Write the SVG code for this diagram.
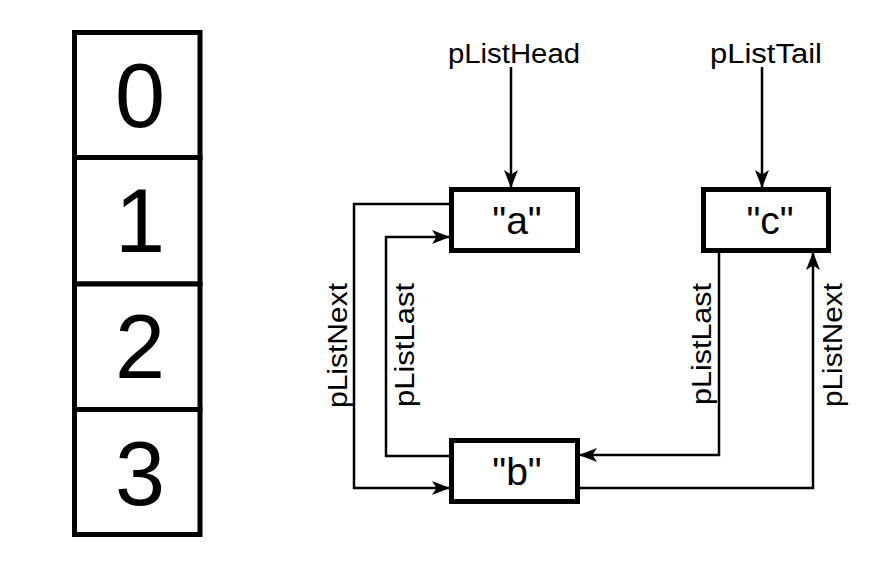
<svg xmlns="http://www.w3.org/2000/svg" width="894" height="564" viewBox="0 0 894 564">
<style>
.cell{fill:#fff;stroke:#000;stroke-width:5}
.node{fill:#fff;stroke:#000;stroke-width:5}
.digit{font-family:"Liberation Sans",Arial,sans-serif;font-size:90px;text-anchor:middle;fill:#000}
.nl{font-family:"Liberation Sans",Arial,sans-serif;font-size:39px;text-anchor:middle;fill:#000}
.lbl{font-family:"Liberation Sans",Arial,sans-serif;font-size:27px;text-anchor:middle;fill:#000}
.conn{fill:none;stroke:#000;stroke-width:2.5}
</style>
<defs>
<marker id="arr" viewBox="0 0 18 14" refX="17" refY="7" markerWidth="18" markerHeight="14" markerUnits="userSpaceOnUse" orient="auto">
<path d="M0,0 L18,7 L0,14 L4.5,7 z" fill="#000"/>
</marker>
</defs>
<rect width="894" height="564" fill="#fff"/>
<g id="array">
<rect class="cell" x="74.5" y="32.5" width="125.5" height="125"/>
<rect class="cell" x="74.5" y="157.5" width="125.5" height="126.5"/>
<rect class="cell" x="74.5" y="284" width="125.5" height="125.5"/>
<rect class="cell" x="74.5" y="409.5" width="125.5" height="125"/>
<text class="digit" x="140" y="127">0</text>
<text class="digit" x="140" y="252">1</text>
<text class="digit" x="140" y="378">2</text>
<text class="digit" x="140" y="505">3</text>
</g>
<g id="connectors">
<path class="conn" d="M511,67 V187" marker-end="url(#arr)"/>
<path class="conn" d="M762,67 V187" marker-end="url(#arr)"/>
<path class="conn" d="M449,204 H354 V488 H449" marker-end="url(#arr)"/>
<path class="conn" d="M449,456 H386 V237 H449" marker-end="url(#arr)"/>
<path class="conn" d="M719,253 V455 H580" marker-end="url(#arr)"/>
<path class="conn" d="M580,488 H813 V253" marker-end="url(#arr)"/>
<text class="lbl" transform="translate(347,345.5) rotate(-90)" textLength="125" lengthAdjust="spacingAndGlyphs">pListNext</text>
<text class="lbl" transform="translate(414,345) rotate(-90)" textLength="124" lengthAdjust="spacingAndGlyphs">pListLast</text>
<text class="lbl" transform="translate(711,344) rotate(-90)" textLength="122" lengthAdjust="spacingAndGlyphs">pListLast</text>
<text class="lbl" transform="translate(842,345) rotate(-90)" textLength="124" lengthAdjust="spacingAndGlyphs">pListNext</text>
</g>
<g id="pListHead">
<text class="lbl" x="514" y="63" textLength="132" lengthAdjust="spacingAndGlyphs">pListHead</text>
</g>
<g id="pListTail">
<text class="lbl" x="766" y="63" textLength="112" lengthAdjust="spacingAndGlyphs">pListTail</text>
</g>
<g id="node-a">
<rect class="node" x="451.5" y="189.5" width="126" height="61"/>
<text class="nl" x="517" y="234">"a"</text>
</g>
<g id="node-b">
<rect class="node" x="451.5" y="440.5" width="126" height="61"/>
<text class="nl" x="517" y="485">"b"</text>
</g>
<g id="node-c">
<rect class="node" x="703.5" y="189.5" width="125" height="61"/>
<text class="nl" x="770" y="234">"c"</text>
</g>
</svg>
